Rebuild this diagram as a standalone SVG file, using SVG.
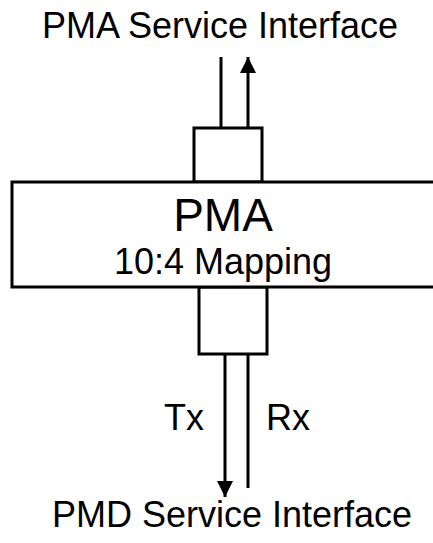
<svg xmlns="http://www.w3.org/2000/svg" width="433" height="543" viewBox="0 0 433 543">
<style>
text{font-family:"Liberation Sans",Arial,sans-serif;fill:#000;text-anchor:middle}
.box{fill:#fff;stroke:#000;stroke-width:3}
.ln{stroke:#000;stroke-width:3;fill:none}
</style>
<defs>
<marker id="ah" viewBox="0 0 16 18" refX="16" refY="8" markerWidth="16" markerHeight="18" markerUnits="userSpaceOnUse" orient="auto"><path d="M0,0 L16,8 L0,16 Z" fill="#000"/></marker>
</defs>
<rect width="433" height="543" fill="#fff"/>
<text id="top-label" x="220" y="38" font-size="36">PMA Service Interface</text>
<g id="connectors">
<line class="ln" x1="221" y1="57" x2="221" y2="128"/>
<line class="ln" x1="248" y1="128" x2="248" y2="57" marker-end="url(#ah)"/>
<line class="ln" x1="225" y1="354" x2="225" y2="497" marker-end="url(#ah)"/>
<line class="ln" x1="248" y1="354" x2="248" y2="488"/>
</g>
<g id="top-port"><rect class="box" x="194" y="128" width="68" height="54"/></g>
<g id="bottom-port"><rect class="box" x="199" y="287" width="68" height="67"/></g>
<g id="pma">
<rect class="box" x="12" y="182" width="430" height="105"/>
<text x="223" y="231" font-size="46">PMA</text>
<text x="223" y="274" font-size="36">10:4 Mapping</text>
</g>
<text id="tx" x="184" y="430" font-size="36">Tx</text>
<text id="rx" x="288" y="430" font-size="36">Rx</text>
<text id="bottom-label" x="232" y="527" font-size="36">PMD Service Interface</text>
</svg>
